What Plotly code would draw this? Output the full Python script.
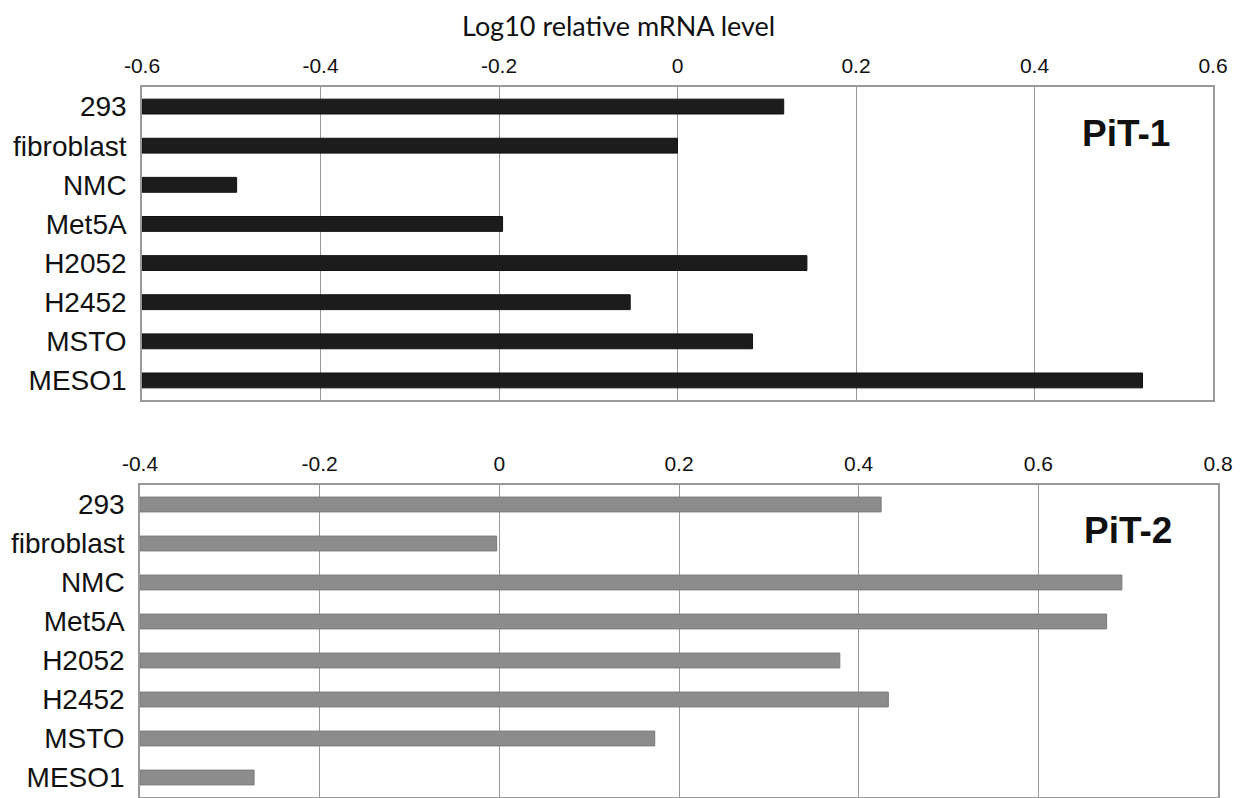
import plotly.graph_objects as go

categories = ["293", "fibroblast", "NMC", "Met5A", "H2052", "H2452", "MSTO", "MESO1"]
pit1_values = [0.119, 0.0, -0.494, -0.196, 0.145, -0.053, 0.084, 0.521]
pit2_values = [0.425, -0.003, 0.693, 0.676, 0.379, 0.433, 0.173, -0.273]
pit1_range = [-0.6, 0.6]
pit2_range = [-0.4, 0.8]
pit1_ticks = [-0.6, -0.4, -0.2, 0, 0.2, 0.4, 0.6]
pit2_ticks = [-0.4, -0.2, 0, 0.2, 0.4, 0.6, 0.8]
pit1_ticklabels = ["-0.6", "-0.4", "-0.2", "0", "0.2", "0.4", "0.6"]
pit2_ticklabels = ["-0.4", "-0.2", "0", "0.2", "0.4", "0.6", "0.8"]
axis_title = "Log10 relative mRNA level"

W, H = 1247, 790   # page body has an 8px margin
OFF = 8


def px_x(X):
    return (X - OFF) / W


def px_y(Y):
    return 1 - (Y - OFF) / H


fig = go.Figure()

fig.add_trace(go.Bar(
    y=categories,
    x=[v - pit1_range[0] for v in pit1_values],
    base=pit1_range[0],
    orientation="h",
    width=0.38,
    marker=dict(color="#1c1c1c", line=dict(color="#111111", width=1)),
    xaxis="x", yaxis="y",
    showlegend=False,
))
fig.add_trace(go.Bar(
    y=categories,
    x=[v - pit2_range[0] for v in pit2_values],
    base=pit2_range[0],
    orientation="h",
    width=0.38,
    marker=dict(color="#8c8c8c", line=dict(color="#7a7a7a", width=1)),
    xaxis="x2", yaxis="y2",
    showlegend=False,
))

tickfont = dict(family="Liberation Sans, Arial, sans-serif", size=21, color="#111111")
catfont = dict(family="Liberation Sans, Arial, sans-serif", size=28, color="#111111")

common_x = dict(side="top", showgrid=True, gridcolor="#9a9a9a", gridwidth=1,
                showline=True, linecolor="#999999", linewidth=1.5, mirror=True,
                zeroline=False, ticks="", tickfont=tickfont, ticklabelstandoff=4,
                tickmode="array", automargin=False)
common_y = dict(type="category", categoryorder="array", categoryarray=categories,
                autorange="reversed", showgrid=False, showline=True,
                linecolor="#999999", linewidth=1.5, mirror=True, ticks="",
                tickfont=catfont, ticklabelstandoff=8, automargin=False)

fig.update_layout(
    width=W, height=H,
    margin=dict(l=0, r=0, t=0, b=0),
    paper_bgcolor="white", plot_bgcolor="white",
    xaxis=dict(common_x, domain=[px_x(142), px_x(1213)], range=pit1_range, anchor="y",
               tickvals=pit1_ticks, ticktext=pit1_ticklabels),
    yaxis=dict(common_y, domain=[px_y(400), px_y(87)], anchor="x"),
    xaxis2=dict(common_x, domain=[px_x(140), px_x(1218)], range=pit2_range, anchor="y2",
                tickvals=pit2_ticks, ticktext=pit2_ticklabels),
    yaxis2=dict(common_y, domain=[px_y(797), px_y(485)], anchor="x2"),
    annotations=[
        dict(text=axis_title, x=px_x(618), y=px_y(25), xref="paper", yref="paper",
             showarrow=False, xanchor="center", yanchor="middle",
             font=dict(family="Lato, sans-serif", size=27, color="#111111")),
        dict(text="<b>PiT-1</b>", x=px_x(1126), y=px_y(134), xref="paper", yref="paper",
             showarrow=False, xanchor="center", yanchor="middle",
             font=dict(family="Liberation Sans, Arial, sans-serif", size=37, color="#111111")),
        dict(text="<b>PiT-2</b>", x=px_x(1128), y=px_y(530), xref="paper", yref="paper",
             showarrow=False, xanchor="center", yanchor="middle",
             font=dict(family="Liberation Sans, Arial, sans-serif", size=37, color="#111111")),
    ],
)

fig.write_html("out.html")
